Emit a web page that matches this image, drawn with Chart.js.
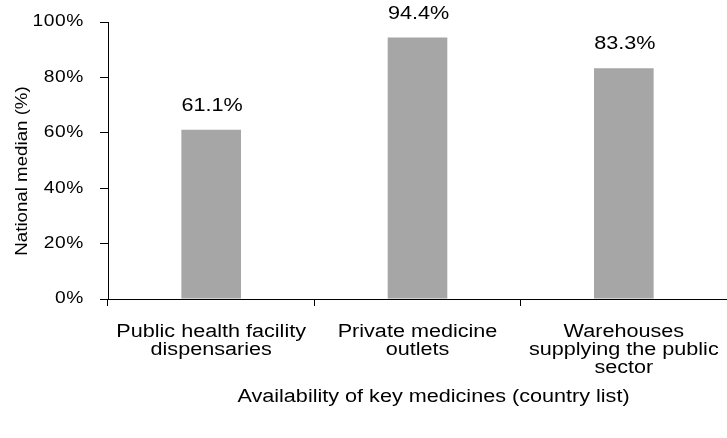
<!DOCTYPE html>
<html>
<head>
<meta charset="utf-8">
<script src="https://cdn.jsdelivr.net/npm/chart.js@4"></script>
<style>
html,body{margin:0;padding:0;background:#fff;}
#wrap{width:727px;height:438px;position:relative;}
</style>
</head>
<body>
<div id="wrap"><canvas id="c" width="727" height="438"></canvas></div>
<script>
const categories = [
  ["Public health facility", "dispensaries"],
  ["Private medicine", "outlets"],
  ["Warehouses", "supplying the public", "sector"]
];
const values = [61.1, 94.4, 83.3];
const yTicks = [0, 20, 40, 60, 80, 100];
const yTitle = "National median (%)";
const xTitle = "Availability of key medicines (country list)";

const FONT = "'Liberation Sans', Arial, sans-serif";

// draw text stretched horizontally by sx around its anchor point
function wideText(ctx, text, x, y, sx) {
  ctx.save();
  ctx.translate(x, y);
  ctx.scale(sx, 1);
  CanvasRenderingContext2D.prototype.fillText.call(ctx, text, 0, 0);
  ctx.restore();
}

function stretchLabels(scale, sx, spacing) {
  if (scale._wide) return;
  scale._wide = true;
  const orig = scale.drawLabels;
  scale.drawLabels = function (area) {
    const ctx = this.ctx;
    const prevLS = ctx.letterSpacing;
    ctx.letterSpacing = spacing;
    ctx.fillText = function (t, x, y) { wideText(this, t, x, y, sx); };
    try { orig.call(this, area); }
    finally {
      delete ctx.fillText;
      ctx.letterSpacing = prevLS || '0px';
    }
  };
}

const textPlugin = {
  id: 'texts',
  afterDatasetsDraw(chart) {
    const ctx = chart.ctx;
    const meta = chart.getDatasetMeta(0);
    ctx.save();
    ctx.font = "18px " + FONT;
    ctx.fillStyle = "#000";
    ctx.textAlign = "center";
    ctx.textBaseline = "alphabetic";
    meta.data.forEach((bar, i) => {
      wideText(ctx, values[i].toFixed(1) + "%", bar.x + 1, bar.y - 19, 1.2);
    });
    ctx.restore();
  },
  afterDraw(chart) {
    const ctx = chart.ctx;
    const area = chart.chartArea;
    ctx.save();
    ctx.fillStyle = "#000";
    ctx.textAlign = "center";
    ctx.textBaseline = "alphabetic";
    // x title
    ctx.font = "18px " + FONT;
    wideText(ctx, xTitle, (area.left + area.right) / 2 + 16, 402, 1.2);
    // y title
    ctx.font = "17px " + FONT;
    ctx.translate(27, 171);
    ctx.rotate(-Math.PI / 2);
    wideText(ctx, yTitle, 0, 0, 1.1);
    ctx.restore();
  }
};

new Chart(document.getElementById('c'), {
  type: 'bar',
  data: {
    labels: categories,
    datasets: [{
      data: values,
      backgroundColor: '#a6a6a6',
      borderWidth: 0,
      categoryPercentage: 1.0,
      barPercentage: 0.289
    }]
  },
  options: {
    responsive: false,
    animation: false,
    devicePixelRatio: 1,
    layout: { padding: { top: 22, left: 0, right: -3.5, bottom: 0 } },
    plugins: { legend: { display: false }, tooltip: { enabled: false } },
    scales: {
      x: {
        offset: true,
        grid: { offset: true, drawOnChartArea: false, drawTicks: true, tickLength: 7, color: '#000', lineWidth: 1 },
        border: { display: true, color: '#000', width: 1 },
        ticks: { color: '#000', font: { family: FONT, size: 18, lineHeight: 1.0 }, padding: 17, maxRotation: 0, minRotation: 0, autoSkip: false },
        title: { display: false },
        afterFit(scale) { scale.height = 139; scale.paddingLeft = 0; scale.paddingRight = 0; },
        afterUpdate(scale) { stretchLabels(scale, 1.2, '0px'); }
      },
      y: {
        min: 0, max: 100,
        afterBuildTicks(scale) { scale.ticks = yTicks.map(v => ({ value: v })); },
        grid: { drawOnChartArea: false, drawTicks: true, tickLength: 8, color: '#000', lineWidth: 1 },
        border: { display: true, color: '#000', width: 1 },
        ticks: { color: '#000', font: { family: FONT, size: 16 }, padding: 16, callback: v => v + '%' },
        title: { display: false },
        afterFit(scale) { scale.width = 108; scale.paddingTop = 0; scale.paddingBottom = 0; },
        afterUpdate(scale) { stretchLabels(scale, 1.2, '0.5px'); }
      }
    }
  },
  plugins: [textPlugin]
});
</script>
</body>
</html>
